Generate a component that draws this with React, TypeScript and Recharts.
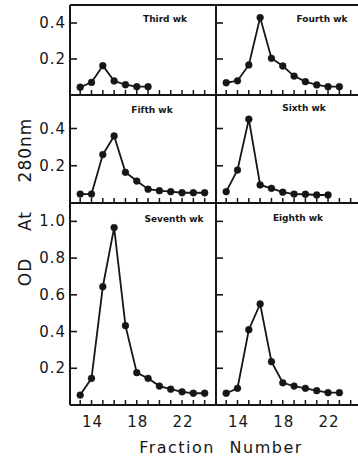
import React from "react";
import { LineChart, Line, XAxis, YAxis, ReferenceLine } from "recharts";

const fractions = [13, 14, 15, 16, 17, 18, 19, 20, 21, 22, 23, 24];
const xTicks = [13, 14, 15, 16, 17, 18, 19, 20, 21, 22, 23, 24];
const xLabels = [14, 18, 22];

const thirdWk = [0.043, 0.07, 0.163, 0.078, 0.057, 0.046, 0.046];
const fourthWk = [0.068, 0.079, 0.167, 0.43, 0.204, 0.161, 0.105, 0.074, 0.056, 0.046, 0.046];
const fifthWk = [0.048, 0.048, 0.26, 0.36, 0.165, 0.118, 0.074, 0.066, 0.061, 0.055, 0.055, 0.055];
const sixthWk = [0.061, 0.177, 0.45, 0.097, 0.079, 0.058, 0.048, 0.047, 0.043, 0.043];
const seventhWk = [0.054, 0.145, 0.644, 0.966, 0.432, 0.176, 0.145, 0.103, 0.086, 0.072, 0.064, 0.064];
const eighthWk = [0.064, 0.091, 0.41, 0.55, 0.236, 0.121, 0.103, 0.091, 0.078, 0.067, 0.067];

const titles = ["Third wk", "Fourth wk", "Fifth wk", "Sixth wk", "Seventh wk", "Eighth wk"];
const topTicks = [0.2, 0.4];
const midTicks = [0.2, 0.4];
const botTicks = [0.2, 0.4, 0.6, 0.8, 1.0];

const FONT = "'DejaVu Sans', sans-serif";
const INK = "#161616";

const toData = (vals: number[]) => vals.map((v, i) => ({ f: fractions[i], v }));

const XTick = (props: any) => {
  const { x, y, payload, showLabel } = props;
  return (
    <g>
      <line x1={x} y1={y} x2={x} y2={y - 5} stroke={INK} strokeWidth={1.5} />
      {showLabel && xLabels.includes(payload.value) ? (
        <text x={x + 1} y={y + 22} textAnchor="middle" fontFamily={FONT} fontSize={15} fill={INK} letterSpacing={1}>
          {payload.value}
        </text>
      ) : null}
    </g>
  );
};

const YTick = (props: any) => {
  const { x, y, payload, showLabel } = props;
  return (
    <g>
      <line x1={x} y1={y} x2={x + 7} y2={y} stroke={INK} strokeWidth={1.6} />
      {showLabel ? (
        <text x={x - 4} y={y + 5} textAnchor="end" fontFamily={FONT} fontSize={15} fill={INK} letterSpacing={1}>
          {Number(payload.value).toFixed(1)}
        </text>
      ) : null}
    </g>
  );
};

type PanelProps = {
  values: number[];
  plotLeft: number;
  plotTop: number;
  plotH: number;
  yMax: number;
  yTicks: number[];
  showYLabels: boolean;
  showXLabels: boolean;
  topBorder: boolean;
};

const Panel = ({ values, plotLeft, plotTop, plotH, yMax, yTicks, showYLabels, showXLabels, topBorder }: PanelProps) => {
  const yAxisW = 60;
  const mTop = 10;
  const mRight = 10;
  const xAxisH = 30;
  const plotW = 146;
  return (
    <div style={{ position: "absolute", left: plotLeft - yAxisW, top: plotTop - mTop }}>
      <LineChart
        width={yAxisW + plotW + mRight}
        height={mTop + plotH + xAxisH}
        data={toData(values)}
        margin={{ top: mTop, right: mRight, left: 0, bottom: 0 }}
      >
        <XAxis
          dataKey="f"
          type="number"
          domain={[12.1, 25.0]}
          ticks={xTicks}
          allowDataOverflow
          height={xAxisH}
          tickSize={0}
          tickMargin={0}
          tickLine={false}
          axisLine={{ stroke: INK, strokeWidth: 2 }}
          tick={(p: any) => <XTick {...p} showLabel={showXLabels} />}
          interval={0}
        />
        <YAxis
          type="number"
          domain={[0, yMax]}
          ticks={yTicks}
          allowDataOverflow
          width={yAxisW}
          tickSize={0}
          tickMargin={0}
          tickLine={false}
          axisLine={{ stroke: INK, strokeWidth: 2 }}
          tick={(p: any) => <YTick {...p} showLabel={showYLabels} />}
          interval={0}
        />
        {topBorder ? <ReferenceLine y={yMax} stroke={INK} strokeWidth={2} /> : null}
        <Line
          dataKey="v"
          stroke={INK}
          strokeWidth={1.8}
          dot={{ r: 3.4, fill: INK, stroke: INK, strokeWidth: 0.5 }}
          isAnimationActive={false}
        />
      </LineChart>
    </div>
  );
};

export default function App() {
  const L = 70;
  const R = 216;
  return (
    <div
      style={{
        position: "absolute",
        left: 0,
        top: 0,
        width: 358,
        height: 458,
        overflow: "hidden",
        background: "#fff",
      }}
    >
      <Panel values={thirdWk} plotLeft={L} plotTop={5} plotH={90} yMax={0.5} yTicks={topTicks} showYLabels showXLabels={false} topBorder />
      <Panel values={fourthWk} plotLeft={R} plotTop={5} plotH={90} yMax={0.5} yTicks={topTicks} showYLabels={false} showXLabels={false} topBorder />
      <Panel values={fifthWk} plotLeft={L} plotTop={95} plotH={108} yMax={0.58} yTicks={midTicks} showYLabels showXLabels={false} topBorder={false} />
      <Panel values={sixthWk} plotLeft={R} plotTop={95} plotH={108} yMax={0.58} yTicks={midTicks} showYLabels={false} showXLabels={false} topBorder={false} />
      <Panel values={seventhWk} plotLeft={L} plotTop={203} plotH={202} yMax={1.1} yTicks={botTicks} showYLabels showXLabels topBorder={false} />
      <Panel values={eighthWk} plotLeft={R} plotTop={203} plotH={202} yMax={1.1} yTicks={botTicks} showYLabels={false} showXLabels topBorder={false} />
      <svg width={358} height={458} style={{ position: "absolute", left: 0, top: 0, pointerEvents: "none" }}>
        <g fontFamily={FONT} fontWeight="bold" fontSize={9} fill={INK} textAnchor="middle">
          <text x={165} y={22}>{titles[0]}</text>
          <text x={322} y={22}>{titles[1]}</text>
          <text x={152} y={113}>{titles[2]}</text>
          <text x={304} y={111}>{titles[3]}</text>
          <text x={174} y={222}>{titles[4]}</text>
          <text x={298} y={221}>{titles[5]}</text>
        </g>
        <g fontFamily={FONT} fontSize={17} fill={INK} textAnchor="middle">
          <text transform="translate(31,150) rotate(-90)" letterSpacing={1}>280nm</text>
          <text transform="translate(31,221) rotate(-90)" letterSpacing={1}>At</text>
          <text transform="translate(31,272) rotate(-90)" letterSpacing={1}>OD</text>
        </g>
        <text x={221} y={453} textAnchor="middle" fontFamily={FONT} fontSize={16} fill={INK} letterSpacing={1.5} wordSpacing={8}>
          Fraction Number
        </text>
      </svg>
    </div>
  );
}
